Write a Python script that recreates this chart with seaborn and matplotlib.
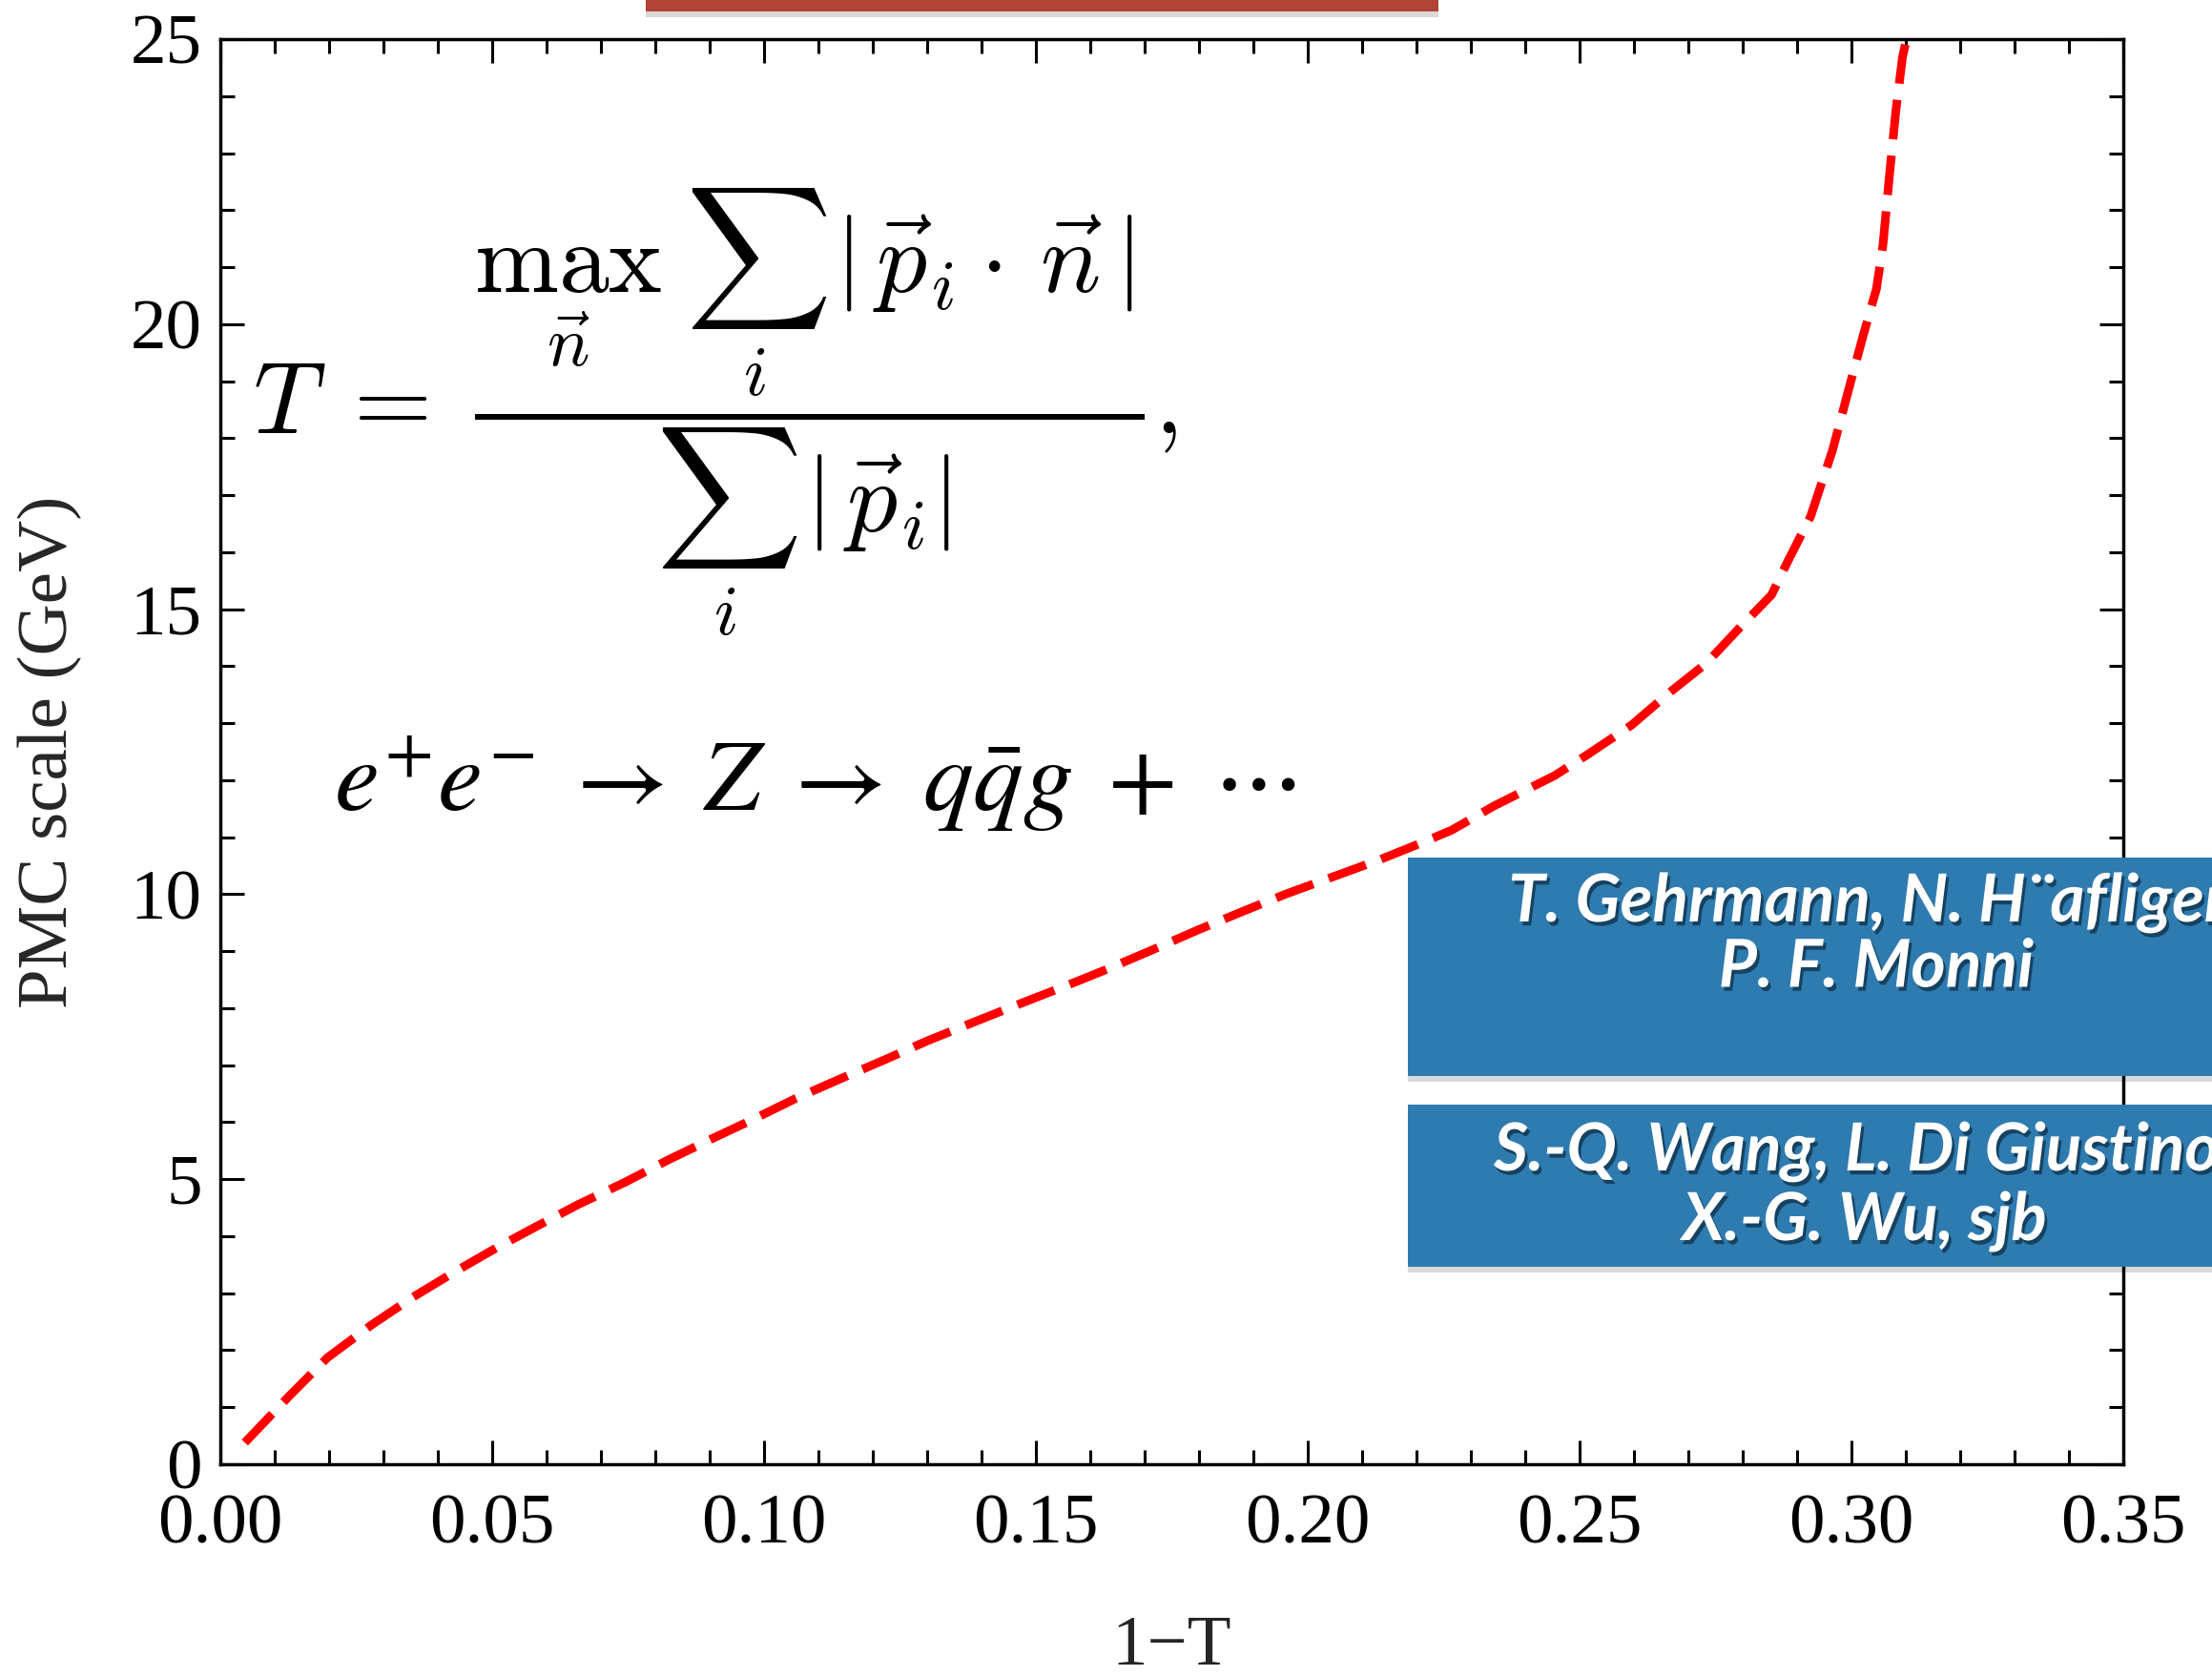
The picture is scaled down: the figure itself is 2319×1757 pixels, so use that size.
import matplotlib
matplotlib.use("Agg")
import matplotlib.pyplot as plt
import matplotlib.patches as mpatches
import matplotlib.patheffects as pe
from matplotlib.ticker import MultipleLocator, FormatStrFormatter
import pandas as pd
import seaborn as sns

# PMC scale as a function of 1-T (thrust)
one_minus_T = [0.0045, 0.0127, 0.0197, 0.0276, 0.0354, 0.0432, 0.0503, 0.0581,
               0.0659, 0.0745, 0.0824, 0.0902, 0.0980, 0.1059, 0.1145, 0.1223,
               0.1301, 0.1387, 0.1466, 0.1552, 0.1630, 0.1716, 0.1795, 0.1881,
               0.1959, 0.2045, 0.2131, 0.2204, 0.2264, 0.2343, 0.2454, 0.2518,
               0.2596, 0.2667, 0.2733, 0.2791, 0.2853, 0.2884, 0.2925, 0.2965,
               0.2997, 0.3021, 0.3046, 0.3058, 0.3070, 0.3082, 0.3094, 0.3102]
pmc_scale = [0.38, 1.20, 1.87, 2.43, 2.93, 3.38, 3.77, 4.17,
             4.56, 4.95, 5.34, 5.70, 6.05, 6.42, 6.78, 7.10,
             7.43, 7.76, 8.06, 8.38, 8.68, 9.03, 9.36, 9.70,
             10.00, 10.30, 10.60, 10.88, 11.12, 11.55, 12.08, 12.47,
             12.97, 13.55, 14.05, 14.64, 15.25, 15.86, 16.63, 17.78,
             18.93, 19.78, 20.62, 21.39, 22.62, 23.77, 24.69, 25.03]

x_label = "1\u2212T"
y_label = "PMC scale (GeV)"
formula = (r"$T \;=\; \dfrac{\max_{\vec{n}}\;\sum_i\,\left|\,\vec{p}_i\!\cdot\,\vec{n}\,\right|}"
           r"{\sum_i\,\left|\,\vec{p}_i\right|},$")
process = r"$e^{+}e^{-}\;\rightarrow\;Z\;\rightarrow\;q\bar{q}g\;+\;\cdots$"
box1_lines = ["T. Gehrmann, N. H\u00a8afliger,", "P. F. Monni"]
box2_lines = ["S.-Q. Wang, L. Di Giustino,", "X.-G. Wu, sjb"]

W, H, DPI = 2319, 1757, 100

sns.set_theme(style="ticks")
plt.rcParams["font.family"] = ["Liberation Serif", "DejaVu Serif"]
plt.rcParams["mathtext.fontset"] = "cm"

fig = plt.figure(figsize=(W / DPI, H / DPI), dpi=DPI)
fig.patch.set_facecolor("white")


def fx(px):
    return px / W


def fy(py):
    return 1 - py / H


ax = fig.add_axes([fx(231), fy(1535), (2226 - 231) / W, (1535 - 41) / H])
ax.set_facecolor("white")

df = pd.DataFrame({"x": one_minus_T, "y": pmc_scale})
sns.lineplot(data=df, x="x", y="y", ax=ax, color="#ff0000", linewidth=6.5,
             sort=False, estimator=None)
line = ax.lines[0]
line.set_dashes((4.6, 1.9))
line.set_dash_capstyle("butt")

ax.set_xlim(0, 0.35)
ax.set_ylim(0, 25)
ax.xaxis.set_major_locator(MultipleLocator(0.05))
ax.xaxis.set_minor_locator(MultipleLocator(0.01))
ax.yaxis.set_major_locator(MultipleLocator(5))
ax.yaxis.set_minor_locator(MultipleLocator(1))
ax.xaxis.set_major_formatter(FormatStrFormatter("%.2f"))
ax.yaxis.set_major_formatter(FormatStrFormatter("%d"))

ax.tick_params(which="both", direction="in", top=True, right=True,
               width=2.2, color="black", labelcolor="black")
ax.tick_params(which="major", length=18, labelsize=54)
ax.tick_params(axis="x", which="major", pad=22)
ax.tick_params(axis="y", which="major", pad=14)
ax.tick_params(which="minor", length=10.8)
for s in ax.spines.values():
    s.set_linewidth(2.5)
    s.set_color("black")
    s.set_visible(True)

ax.set_xlabel(x_label, fontsize=54)
ax.set_ylabel(y_label, fontsize=54)
ax.xaxis.set_label_coords(0.5, (1535 - 1727) / 1494)
ax.xaxis.label.set_va("center")
ax.yaxis.set_label_coords((52 - 231) / 1995, 0.5)
ax.yaxis.label.set_va("center")

# Thrust definition and process
fig.text(fx(265), fy(432), formula, fontsize=76, ha="left", va="center",
         color="black")
fig.text(fx(350), fy(850), process, fontsize=76, ha="left", va="baseline",
         color="black", math_fontfamily="stix")

shadow = [pe.withSimplePatchShadow(offset=(0, -4), shadow_rgbFace="black",
                                   alpha=0.15)]

# Title banner at the top edge
banner = mpatches.Rectangle((fx(677), fy(12)), (1508 - 677) / W, 12 / H + 0.01,
                            transform=fig.transFigure, facecolor="#b04535",
                            edgecolor="none", zorder=5, path_effects=shadow)
fig.add_artist(banner)

# Reference boxes
for top, bottom in [(899, 1128), (1158, 1328)]:
    rect = mpatches.Rectangle((fx(1476), fy(bottom)), (2400 - 1476) / W,
                              (bottom - top) / H, transform=fig.transFigure,
                              facecolor="#2e7bb0", edgecolor="none", zorder=5,
                              path_effects=shadow)
    fig.add_artist(rect)

text_shadow = [pe.withSimplePatchShadow(offset=(2, -3), shadow_rgbFace="#0d2a40",
                                        alpha=0.7)]
text_kw = dict(fontsize=50, ha="center", va="center", color="white",
               family="Lato", weight="bold", style="italic", zorder=6,
               path_effects=text_shadow)
for txt, ypix in zip(box1_lines, [947, 1015]):
    fig.text(fx(1967), fy(ypix), txt, **text_kw)
for txt, ypix in zip(box2_lines, [1208, 1281]):
    fig.text(fx(1955), fy(ypix), txt, **text_kw)

fig.savefig("out.png", dpi=DPI, facecolor="white")
